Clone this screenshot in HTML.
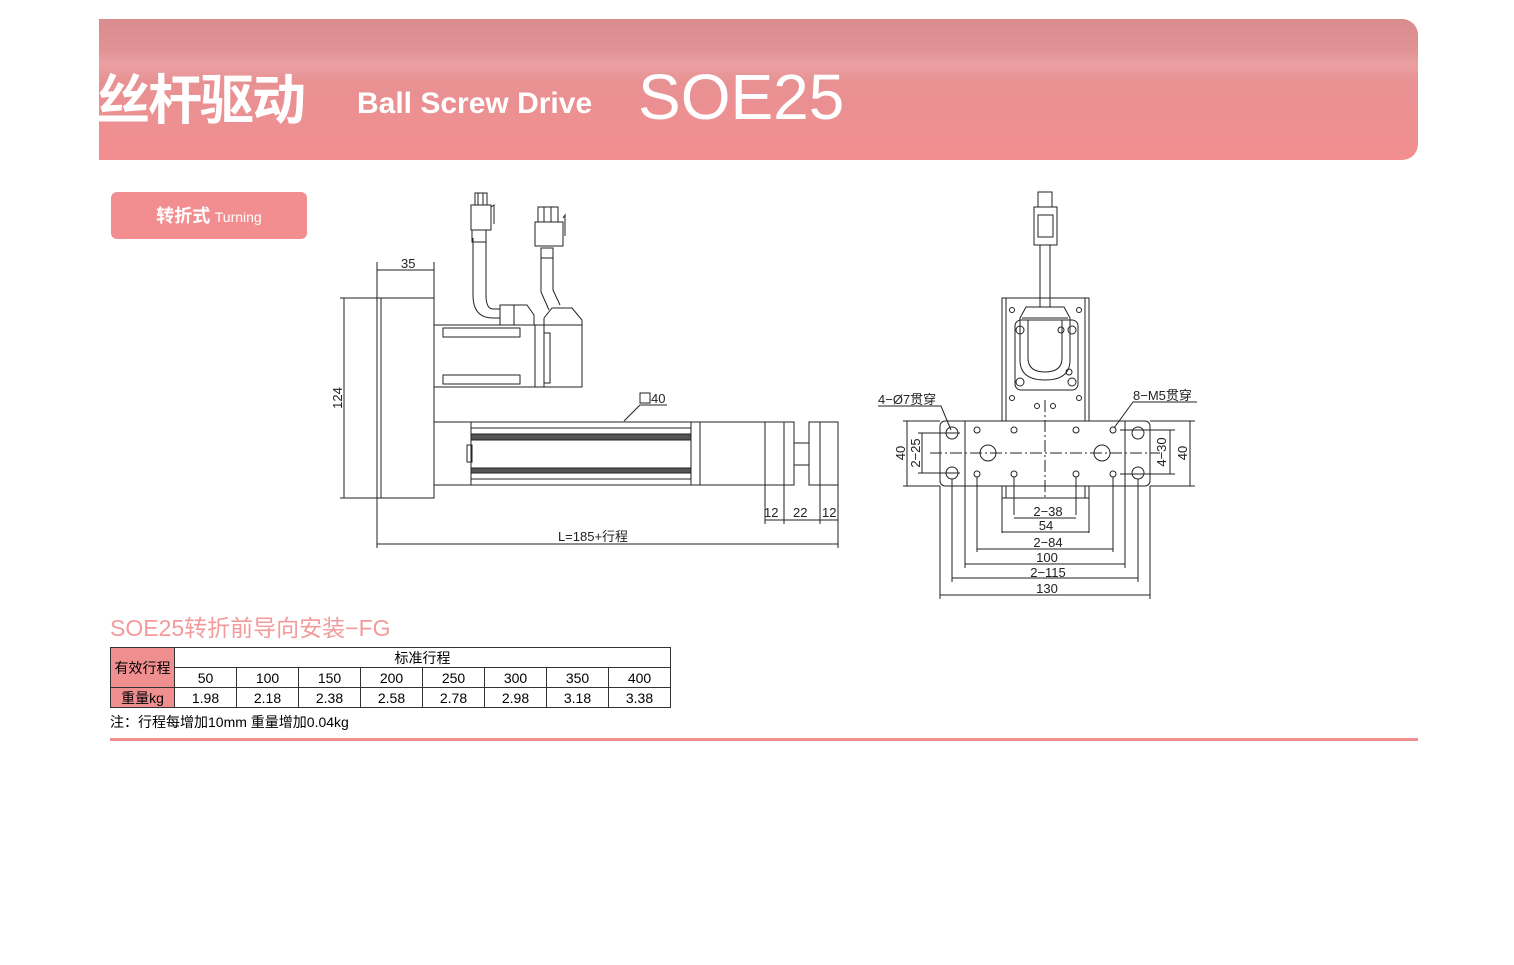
<!DOCTYPE html>
<html><head><meta charset="utf-8">
<style>
html,body{margin:0;padding:0;background:#fff;}
body{width:1514px;height:965px;position:relative;overflow:hidden;font-family:"Liberation Sans","Noto Sans CJK SC",sans-serif;}
.hdr{position:absolute;left:99px;top:19px;width:1319px;height:141px;border-radius:0 16px 16px 0;
background:linear-gradient(180deg,#d98c8e 0%,#e09294 22%,#eaa0a2 32%,#e89193 45%,#f28e90 100%);overflow:hidden;}
.t1{position:absolute;left:96px;top:56px;font-size:54px;color:#fff;font-weight:bold;letter-spacing:-2px;white-space:nowrap;font-family:"Noto Sans CJK SC",sans-serif;}
.t2{position:absolute;left:357px;top:87px;font-size:30px;color:#fff;font-weight:bold;white-space:nowrap;}
.t3{position:absolute;left:638px;top:60px;font-size:64px;color:#fff;white-space:nowrap;}
.btn{position:absolute;left:111px;top:192px;width:196px;height:47px;border-radius:6px;background:#f28e90;color:#fff;text-align:center;line-height:47px;}
.btn b{font-size:18px;font-family:"Noto Sans CJK SC",sans-serif;}
.btn span{font-size:14px;}
.sub{position:absolute;left:110px;top:609px;font-size:23px;color:#f49a9b;white-space:nowrap;}
table{position:absolute;left:110px;top:647px;border-collapse:collapse;font-size:14px;}
td{border:1px solid #333;text-align:center;padding:0;height:19px;line-height:18px;width:61px;}
td.p{background:#f08f90;width:63px;}
.note{position:absolute;left:110px;top:712px;font-size:14px;white-space:nowrap;}
.line{position:absolute;left:110px;top:738px;width:1308px;height:3px;background:#f08f90;}
svg{position:absolute;left:0;top:0;}
svg text{font-family:"Liberation Sans","Noto Sans CJK SC",sans-serif;font-size:13px;fill:#222;}
</style></head><body>
<div class="hdr"></div>
<div class="t1">丝杆驱动</div>
<div class="t2">Ball Screw Drive</div>
<div class="t3">SOE25</div>
<div class="btn"><b>转折式</b> <span>Turning</span></div>

<svg width="1514" height="965" viewBox="0 0 1514 965" fill="none" stroke="#222" stroke-width="1">
<rect x="377" y="298" width="57" height="200"/>
<line x1="381" y1="298" x2="381" y2="498"/>
<rect x="434" y="325" width="148" height="62"/>
<rect x="443" y="328" width="77" height="9"/><rect x="443" y="375" width="77" height="9"/>
<line x1="535" y1="325" x2="535" y2="387"/><line x1="544" y1="318" x2="544" y2="387"/>
<rect x="544" y="333" width="6" height="50"/>
<path d="M544 318 L552 308 L572 308 L582 320 L582 387"/>
<path d="M500 325 L500 305 L527 305 L534 315 L534 325"/>
<line x1="514" y1="305" x2="514" y2="325"/>
<path d="M473 238 L473 295 Q473 318 493 318 L500 318"/>
<path d="M486 238 L486 295 Q486 309 493 309 L500 309"/>
<rect x="472" y="230" width="14" height="12"/>
<rect x="471" y="205" width="20" height="25"/>
<rect x="475" y="193" width="12" height="12"/>
<line x1="478" y1="193" x2="478" y2="205"/><line x1="483" y1="193" x2="483" y2="205"/>
<path d="M491 207 L494 205 L494 224"/>
<path d="M541 255 L541 292 L549 310"/><path d="M553 255 L553 290 L560 305"/>
<rect x="541" y="248" width="12" height="10"/>
<rect x="535" y="222" width="28" height="24"/>
<rect x="538" y="207" width="20" height="15"/>
<line x1="544" y1="207" x2="544" y2="222"/><line x1="551" y1="207" x2="551" y2="222"/>
<path d="M563 218 L565 215 L565 236"/>
<rect x="434" y="422" width="37" height="63"/>
<rect x="471" y="422" width="220" height="63"/>
<line x1="471" y1="428" x2="691" y2="428"/><line x1="471" y1="479" x2="691" y2="479"/>
<rect x="471" y="434" width="220" height="6" fill="#555"/>
<rect x="471" y="468" width="220" height="5" fill="#555"/>
<rect x="467" y="445" width="5" height="17"/>
<rect x="691" y="422" width="9" height="63"/>
<rect x="700" y="422" width="65" height="63"/>
<rect x="765" y="422" width="19" height="63"/>
<rect x="784" y="422" width="10" height="63"/>
<rect x="794" y="443" width="15" height="22"/>
<rect x="809" y="422" width="11" height="63"/>
<rect x="820" y="422" width="18" height="63"/>
<line x1="377" y1="262" x2="377" y2="298"/><line x1="434" y1="262" x2="434" y2="298"/>
<line x1="377" y1="270" x2="434" y2="270"/>
<text x="401" y="268" stroke="none">35</text>
<line x1="340" y1="298" x2="377" y2="298"/><line x1="340" y1="498" x2="377" y2="498"/>
<line x1="344" y1="298" x2="344" y2="498"/>
<text x="342" y="398" stroke="none" transform="rotate(-90 342 398)" text-anchor="middle">124</text>
<line x1="377" y1="498" x2="377" y2="548"/><line x1="838" y1="485" x2="838" y2="548"/>
<line x1="377" y1="544" x2="838" y2="544"/>
<text x="593" y="541" stroke="none" text-anchor="middle">L=185+行程</text>
<line x1="765" y1="485" x2="765" y2="524"/><line x1="784" y1="485" x2="784" y2="524"/>
<line x1="820" y1="485" x2="820" y2="524"/>
<line x1="765" y1="520" x2="838" y2="520"/>
<text x="764" y="517" stroke="none">12</text><text x="793" y="517" stroke="none">22</text><text x="822" y="517" stroke="none">12</text>
<path d="M624 421 L640 405 L667 405"/>
<rect x="640" y="393" width="10" height="10"/>
<text x="651" y="403" stroke="none">40</text>

<rect x="1002" y="298" width="87" height="200"/>
<line x1="1006" y1="298" x2="1006" y2="498"/><line x1="1085" y1="298" x2="1085" y2="498"/>
<rect x="1015" y="320" width="63" height="70" rx="6"/>
<path d="M1026 307 L1064 307 L1070 318 L1070 360 Q1070 380 1045 380 Q1020 380 1020 360 L1020 318 Z"/>
<path d="M1028 320 L1028 358 Q1028 372 1045 372 Q1062 372 1062 358 L1062 320"/>
<line x1="1022" y1="318" x2="1068" y2="318"/>
<circle cx="1020" cy="330" r="4"/><circle cx="1072" cy="330" r="4"/><circle cx="1020" cy="382" r="4"/><circle cx="1072" cy="382" r="4"/>
<circle cx="1061" cy="330" r="3"/><circle cx="1069" cy="372" r="3"/>
<circle cx="1012" cy="310" r="2.5"/><circle cx="1079" cy="310" r="2.5"/><circle cx="1012" cy="398" r="2.5"/><circle cx="1079" cy="398" r="2.5"/>
<circle cx="1037" cy="406" r="2.5"/><circle cx="1053" cy="406" r="2.5"/>
<rect x="1040" y="245" width="10" height="62"/>
<rect x="1034" y="207" width="23" height="38"/>
<rect x="1038" y="215" width="15" height="22"/>
<rect x="1038" y="192" width="14" height="15"/>
<rect x="940" y="421" width="210" height="65" rx="5" fill="#fff"/>
<line x1="965" y1="421" x2="965" y2="486"/><line x1="1125" y1="421" x2="1125" y2="486"/>
<line x1="930" y1="453" x2="1160" y2="453" stroke-dasharray="12 3 2 3"/>
<line x1="1045" y1="400" x2="1045" y2="500" stroke-dasharray="12 3 2 3"/>
<circle cx="952" cy="433" r="6"/><circle cx="1138" cy="433" r="6"/><circle cx="952" cy="473" r="6"/><circle cx="1138" cy="473" r="6"/>
<circle cx="988" cy="453" r="8"/><circle cx="1102" cy="453" r="8"/>
<circle cx="977" cy="430" r="3"/><circle cx="1014" cy="430" r="3"/><circle cx="1076" cy="430" r="3"/><circle cx="1113" cy="430" r="3"/>
<circle cx="977" cy="474" r="3"/><circle cx="1014" cy="474" r="3"/><circle cx="1076" cy="474" r="3"/><circle cx="1113" cy="474" r="3"/>
<line x1="903" y1="421" x2="940" y2="421"/><line x1="903" y1="486" x2="940" y2="486"/>
<line x1="907" y1="421" x2="907" y2="486"/>
<text x="905" y="453" stroke="none" transform="rotate(-90 905 453)" text-anchor="middle">40</text>
<line x1="918" y1="433" x2="960" y2="433"/><line x1="918" y1="473" x2="960" y2="473"/>
<line x1="922" y1="433" x2="922" y2="473"/>
<text x="920" y="453" stroke="none" transform="rotate(-90 920 453)" text-anchor="middle">2−25</text>
<line x1="1120" y1="430" x2="1175" y2="430"/><line x1="1120" y1="474" x2="1175" y2="474"/>
<line x1="1170" y1="430" x2="1170" y2="474"/>
<text x="1166" y="452" stroke="none" transform="rotate(-90 1166 452)" text-anchor="middle">4−30</text>
<line x1="1150" y1="421" x2="1195" y2="421"/><line x1="1150" y1="486" x2="1195" y2="486"/>
<line x1="1190" y1="421" x2="1190" y2="486"/>
<text x="1187" y="453" stroke="none" transform="rotate(-90 1187 453)" text-anchor="middle">40</text>
<line x1="1014" y1="477" x2="1014" y2="515"/><line x1="1076" y1="477" x2="1076" y2="515"/>
<line x1="1002" y1="498" x2="1002" y2="533"/><line x1="1089" y1="498" x2="1089" y2="533"/>
<line x1="977" y1="477" x2="977" y2="552"/><line x1="1113" y1="477" x2="1113" y2="552"/>
<line x1="965" y1="486" x2="965" y2="568"/><line x1="1125" y1="486" x2="1125" y2="568"/>
<line x1="952" y1="479" x2="952" y2="582"/><line x1="1138" y1="479" x2="1138" y2="582"/>
<line x1="940" y1="486" x2="940" y2="599"/><line x1="1150" y1="486" x2="1150" y2="599"/>
<line x1="1014" y1="518" x2="1076" y2="518"/><text x="1048" y="516" stroke="none" text-anchor="middle">2−38</text>
<line x1="1002" y1="532" x2="1089" y2="532"/><text x="1046" y="530" stroke="none" text-anchor="middle">54</text>
<line x1="977" y1="549" x2="1113" y2="549"/><text x="1048" y="547" stroke="none" text-anchor="middle">2−84</text>
<line x1="965" y1="564" x2="1125" y2="564"/><text x="1047" y="562" stroke="none" text-anchor="middle">100</text>
<line x1="952" y1="578" x2="1138" y2="578"/><text x="1048" y="577" stroke="none" text-anchor="middle">2−115</text>
<line x1="940" y1="595" x2="1150" y2="595"/><text x="1047" y="593" stroke="none" text-anchor="middle">130</text>
<text x="878" y="404" stroke="none">4−Ø7贯穿</text>
<path d="M878 406 L941 406 L951 430"/>
<text x="1133" y="400" stroke="none">8−M5贯穿</text>
<path d="M1197 402 L1133 402 L1114 428"/>
</svg>

<div class="sub">SOE25转折前导向安装−FG</div>
<table>
<tr><td class="p" rowspan="2">有效行程</td><td colspan="8">标准行程</td></tr>
<tr><td>50</td><td>100</td><td>150</td><td>200</td><td>250</td><td>300</td><td>350</td><td>400</td></tr>
<tr><td class="p">重量kg</td><td>1.98</td><td>2.18</td><td>2.38</td><td>2.58</td><td>2.78</td><td>2.98</td><td>3.18</td><td>3.38</td></tr>
</table>
<div class="note">注：行程每增加10mm 重量增加0.04kg</div>
<div class="line"></div>
</body></html>
